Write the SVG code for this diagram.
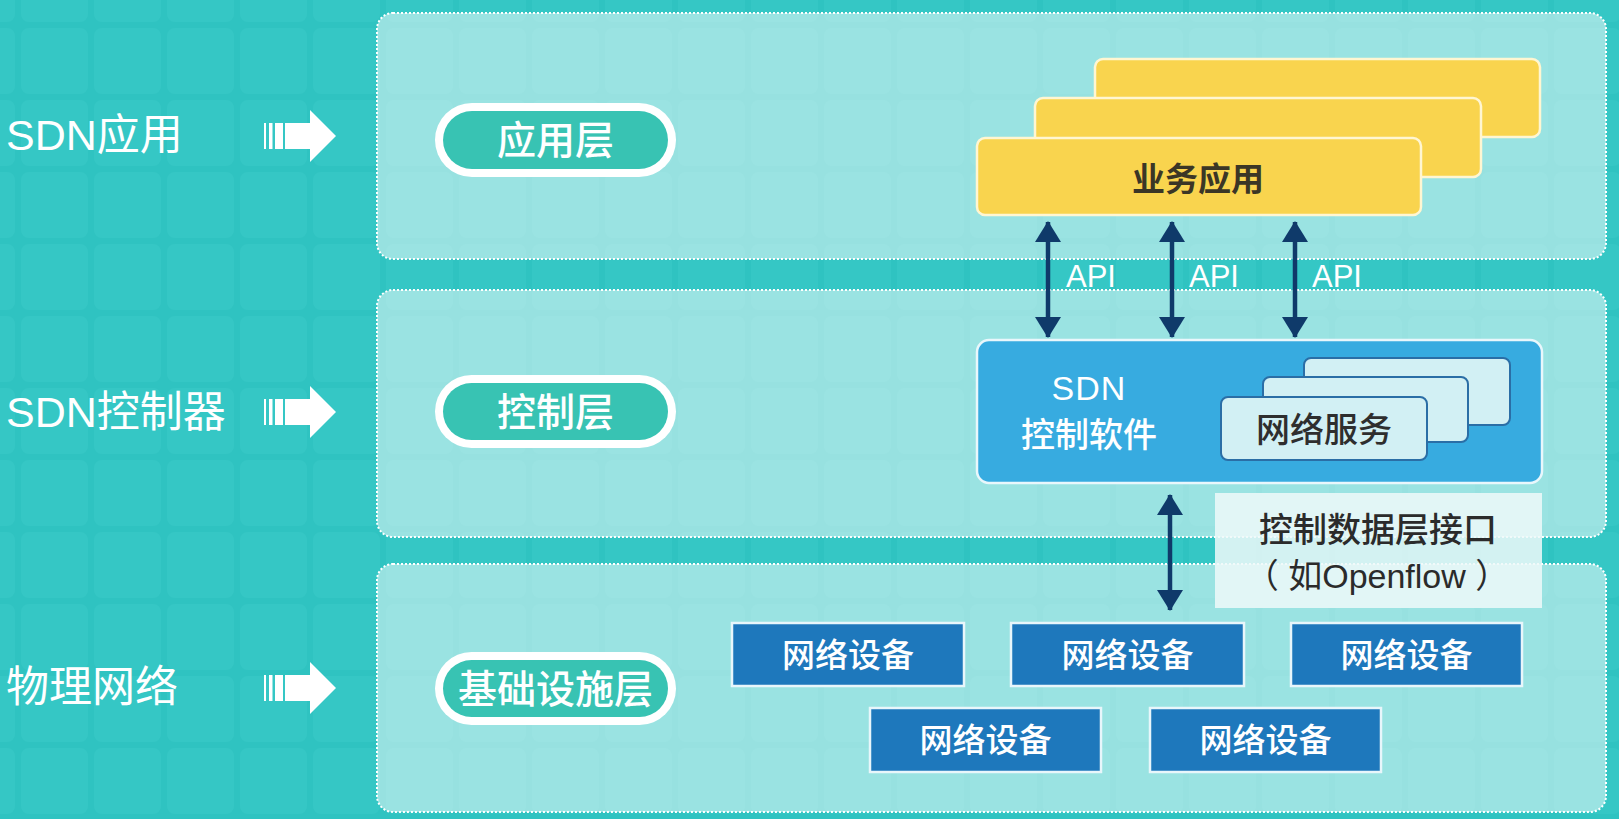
<svg xmlns="http://www.w3.org/2000/svg" width="1619" height="819" viewBox="0 0 1619 819">
  <style>
    .lbl { font-family: "Liberation Sans", "Noto Sans CJK SC", sans-serif; fill: #ffffff; }
    .cjk { font-family: "Noto Sans CJK SC", sans-serif; }
    .panel { fill: #ffffff; fill-opacity: 0.5; stroke: #ffffff; stroke-width: 2; stroke-dasharray: 2 2; }
    .pill-o { fill: #ffffff; }
    .pill-i { fill: #38c3b3; }
    .yel { fill: #f9d44e; stroke: #fff6d2; stroke-width: 2.5; }
    .svc { fill: #d2f0f4; stroke: #2a6ea6; stroke-width: 2; }
    .dev { fill: #1e78bc; stroke: #e8f6fb; stroke-width: 2.5; }
    .conn { stroke: #0f3a6a; stroke-width: 4.5; fill: none; }
  </style>
  <defs>
    <pattern id="grid" x="18" y="25" width="73" height="72" patternUnits="userSpaceOnUse">
      <rect width="73" height="72" fill="#2fc3c1"/>
      <rect x="3" y="3" width="67" height="66" rx="8" fill="#35c7c5"/>
    </pattern>
    <marker id="ah" markerUnits="userSpaceOnUse" markerWidth="22" markerHeight="28" refX="20" refY="14" orient="auto-start-reverse" viewBox="0 0 22 28">
      <path d="M0,1 L21,14 L0,27 Z" fill="#0f3a6a"/>
    </marker>
  </defs>

  <rect width="1619" height="819" fill="url(#grid)"/>

  <g id="panels">
    <rect id="panel-app" class="panel" x="377" y="13" width="1229" height="246" rx="16"/>
    <rect id="panel-ctrl" class="panel" x="377" y="290" width="1229" height="247" rx="16"/>
    <rect id="panel-infra" class="panel" x="377" y="564" width="1229" height="248" rx="16"/>
  </g>

  <g id="side-labels">
    <text id="label-sdn-app" class="lbl" x="6" y="150" font-size="43">SDN应用</text>
    <text id="label-sdn-ctrl" class="lbl" x="6" y="427" font-size="43">SDN控制器</text>
    <text id="label-phys" class="lbl" x="6" y="702" font-size="43">物理网络</text>
  </g>

  <g id="row-arrows" fill="#ffffff">
    <g id="row-arrow-1" transform="translate(0,136)">
      <rect x="264" y="-13" width="2" height="26"/>
      <rect x="269" y="-13" width="3.5" height="26"/>
      <rect x="275" y="-13" width="8" height="26"/>
      <path d="M285,-13 H310 V-26 L336,0 L310,26 V13 H285 Z"/>
    </g>
    <g id="row-arrow-2" transform="translate(0,412)">
      <rect x="264" y="-13" width="2" height="26"/>
      <rect x="269" y="-13" width="3.5" height="26"/>
      <rect x="275" y="-13" width="8" height="26"/>
      <path d="M285,-13 H310 V-26 L336,0 L310,26 V13 H285 Z"/>
    </g>
    <g id="row-arrow-3" transform="translate(0,688)">
      <rect x="264" y="-13" width="2" height="26"/>
      <rect x="269" y="-13" width="3.5" height="26"/>
      <rect x="275" y="-13" width="8" height="26"/>
      <path d="M285,-13 H310 V-26 L336,0 L310,26 V13 H285 Z"/>
    </g>
  </g>

  <g id="layer-app">
    <rect class="pill-o" x="435" y="103" width="241" height="74" rx="37"/>
    <rect class="pill-i" x="443" y="111" width="225" height="58" rx="29"/>
    <text class="lbl cjk" x="555.5" y="154" font-size="39" text-anchor="middle" font-weight="500">应用层</text>
  </g>
  <g id="layer-ctrl">
    <rect class="pill-o" x="435" y="375" width="241" height="73" rx="36.5"/>
    <rect class="pill-i" x="443" y="383" width="225" height="57" rx="28.5"/>
    <text class="lbl cjk" x="555.5" y="425.5" font-size="39" text-anchor="middle" font-weight="500">控制层</text>
  </g>
  <g id="layer-infra">
    <rect class="pill-o" x="435" y="652" width="241" height="73" rx="36.5"/>
    <rect class="pill-i" x="443" y="660" width="225" height="57" rx="28.5"/>
    <text class="lbl cjk" x="555.5" y="702.5" font-size="39" text-anchor="middle" font-weight="500">基础设施层</text>
  </g>

  <g id="biz-apps">
    <rect class="yel" x="1095" y="59" width="445" height="78" rx="8"/>
    <rect class="yel" x="1035" y="98" width="446" height="79" rx="8"/>
    <rect class="yel" x="977" y="138" width="444" height="77" rx="8"/>
    <text class="cjk" x="1198" y="191" font-size="33" font-weight="bold" fill="#3b3626" text-anchor="middle">业务应用</text>
  </g>

  <g id="sdn-controller">
    <rect x="977" y="340" width="565" height="143" rx="12" fill="#37abe0" stroke="#e9f7fc" stroke-width="2.5"/>
    <text class="lbl" x="1089" y="400" font-size="34" text-anchor="middle" letter-spacing="1">SDN</text>
    <text class="lbl cjk" x="1089" y="447" font-size="34" text-anchor="middle" font-weight="500">控制软件</text>
  </g>

  <g id="net-services">
    <rect class="svc" x="1304" y="358" width="206" height="67" rx="7"/>
    <rect class="svc" x="1263" y="377" width="205" height="65" rx="7"/>
    <rect class="svc" x="1221" y="397" width="206" height="63" rx="7"/>
    <text class="cjk" x="1324" y="442" font-size="34" font-weight="500" fill="#2e2e2e" text-anchor="middle">网络服务</text>
  </g>

  <g id="iface-label">
    <rect x="1215" y="493" width="327" height="115" fill="#eef9f9" fill-opacity="0.85"/>
    <text class="cjk" x="1378" y="542" font-size="34" font-weight="500" fill="#2b2b2b" text-anchor="middle">控制数据层接口</text>
    <text x="1377" y="588" font-size="34" fill="#2b2b2b" text-anchor="middle" font-family="Liberation Sans, Noto Sans CJK SC, sans-serif">（ 如Openflow ）</text>
  </g>

  <g id="devices">
    <g id="dev-1"><rect class="dev" x="732" y="623" width="232" height="63"/><text class="lbl cjk" x="848" y="667" font-size="33" font-weight="500" text-anchor="middle">网络设备</text></g>
    <g id="dev-2"><rect class="dev" x="1011" y="623" width="233" height="63"/><text class="lbl cjk" x="1127.5" y="667" font-size="33" font-weight="500" text-anchor="middle">网络设备</text></g>
    <g id="dev-3"><rect class="dev" x="1291" y="623" width="231" height="63"/><text class="lbl cjk" x="1406.5" y="667" font-size="33" font-weight="500" text-anchor="middle">网络设备</text></g>
    <g id="dev-4"><rect class="dev" x="870" y="708" width="231" height="64"/><text class="lbl cjk" x="985.5" y="752" font-size="33" font-weight="500" text-anchor="middle">网络设备</text></g>
    <g id="dev-5"><rect class="dev" x="1150" y="708" width="231" height="64"/><text class="lbl cjk" x="1265.5" y="752" font-size="33" font-weight="500" text-anchor="middle">网络设备</text></g>
  </g>

  <g id="connectors">
    <line class="conn" x1="1048" y1="222" x2="1048" y2="337" marker-start="url(#ah)" marker-end="url(#ah)"/>
    <line class="conn" x1="1172" y1="222" x2="1172" y2="337" marker-start="url(#ah)" marker-end="url(#ah)"/>
    <line class="conn" x1="1295" y1="222" x2="1295" y2="337" marker-start="url(#ah)" marker-end="url(#ah)"/>
    <line class="conn" x1="1170" y1="495" x2="1170" y2="610" marker-start="url(#ah)" marker-end="url(#ah)"/>
    <text class="lbl" x="1066" y="287" font-size="31">API</text>
    <text class="lbl" x="1189" y="287" font-size="31">API</text>
    <text class="lbl" x="1312" y="287" font-size="31">API</text>
  </g>
</svg>
